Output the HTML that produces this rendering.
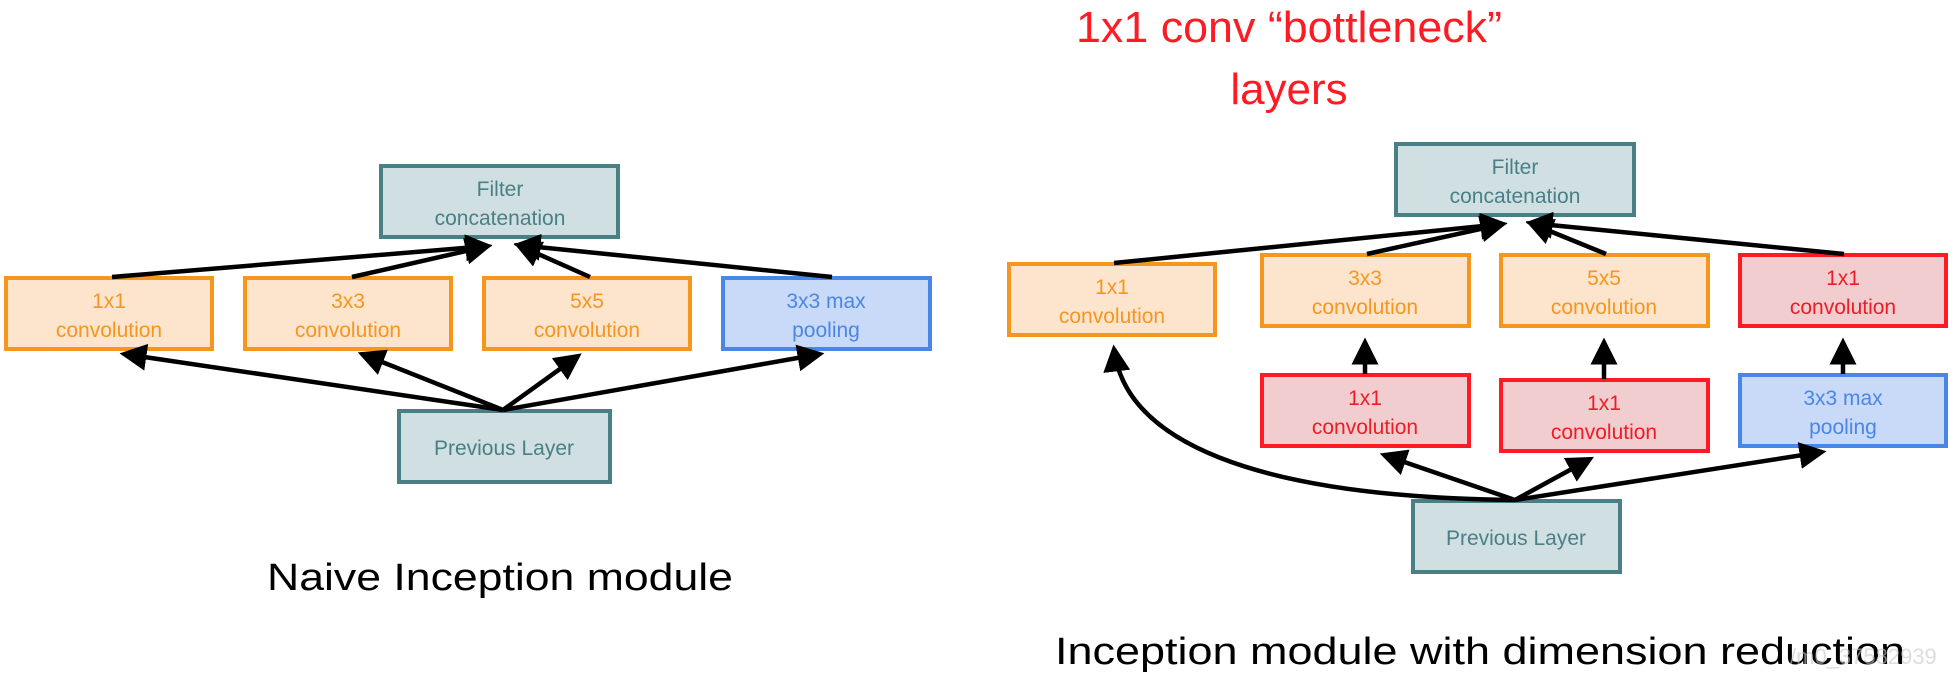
<!DOCTYPE html>
<html><head><style>body{margin:0;background:#fff}svg{display:block}</style></head>
<body>
<svg width="1958" height="676" viewBox="0 0 1958 676" xmlns="http://www.w3.org/2000/svg" font-family="Liberation Sans, Arial, sans-serif">
<defs>
<marker id="a" markerWidth="6" markerHeight="6" refX="5" refY="3" orient="auto" markerUnits="strokeWidth">
<path d="M0,0 L6,3 L0,6 z" fill="#000"/>
</marker>
</defs>
<style>
.t{stroke:#4a7f86;fill:#d0e0e2;stroke-width:4}
.o{stroke:#f7961e;fill:#fce4cd;stroke-width:4}
.b{stroke:#4a86e8;fill:#c9daf8;stroke-width:4}
.r{stroke:#ff1a24;fill:#f2cdd0;stroke-width:4}
.tt{fill:#4a7f86}.ot{fill:#f7961e}.bt{fill:#4a86e8}.rt{fill:#ee1c25}
text.l{font-size:21px;text-anchor:middle}
.ar{stroke:#000;stroke-width:4.5;fill:none;marker-end:url(#a)}
</style>

<!-- LEFT -->
<rect class="t" x="381" y="166" width="237" height="71"/>
<text class="l tt" x="500" y="196">Filter</text><text class="l tt" x="500" y="225">concatenation</text>
<rect class="o" x="6" y="278" width="206" height="71"/>
<text class="l ot" x="109" y="308">1x1</text><text class="l ot" x="109" y="337">convolution</text>
<rect class="o" x="245" y="278" width="206" height="71"/>
<text class="l ot" x="348" y="308">3x3</text><text class="l ot" x="348" y="337">convolution</text>
<rect class="o" x="484" y="278" width="206" height="71"/>
<text class="l ot" x="587" y="308">5x5</text><text class="l ot" x="587" y="337">convolution</text>
<rect class="b" x="723" y="278" width="207" height="71"/>
<text class="l bt" x="826" y="308">3x3 max</text><text class="l bt" x="826" y="337">pooling</text>
<rect class="t" x="399" y="411" width="211" height="71"/>
<text class="l tt" x="504" y="455">Previous Layer</text>

<path class="ar" d="M112,277 L488,246"/>
<path class="ar" d="M352,277 L488,246"/>
<path class="ar" d="M590,277 L518,245"/>
<path class="ar" d="M832,277 L518,245"/>
<path class="ar" d="M503,410 L124,354"/>
<path class="ar" d="M503,410 L362,354"/>
<path class="ar" d="M503,410 L578,356"/>
<path class="ar" d="M503,410 L820,354"/>

<text x="500" y="590" font-size="38" text-anchor="middle" fill="#000" textLength="466" lengthAdjust="spacingAndGlyphs">Naive Inception module</text>

<!-- RIGHT -->
<text x="1289" y="42" font-size="44" text-anchor="middle" fill="#ff1a24" textLength="426" lengthAdjust="spacingAndGlyphs">1x1 conv “bottleneck”</text>
<text x="1289" y="104" font-size="44" text-anchor="middle" fill="#ff1a24">layers</text>

<rect class="t" x="1396" y="144" width="238" height="71"/>
<text class="l tt" x="1515" y="174">Filter</text><text class="l tt" x="1515" y="203">concatenation</text>
<rect class="o" x="1009" y="264" width="206" height="71"/>
<text class="l ot" x="1112" y="294">1x1</text><text class="l ot" x="1112" y="323">convolution</text>
<rect class="o" x="1262" y="255" width="207" height="71"/>
<text class="l ot" x="1365" y="285">3x3</text><text class="l ot" x="1365" y="314">convolution</text>
<rect class="o" x="1501" y="255" width="207" height="71"/>
<text class="l ot" x="1604" y="285">5x5</text><text class="l ot" x="1604" y="314">convolution</text>
<rect class="r" x="1740" y="255" width="206" height="71"/>
<text class="l rt" x="1843" y="285">1x1</text><text class="l rt" x="1843" y="314">convolution</text>
<rect class="r" x="1262" y="375" width="207" height="71"/>
<text class="l rt" x="1365" y="405">1x1</text><text class="l rt" x="1365" y="434">convolution</text>
<rect class="r" x="1501" y="380" width="207" height="71"/>
<text class="l rt" x="1604" y="410">1x1</text><text class="l rt" x="1604" y="439">convolution</text>
<rect class="b" x="1740" y="375" width="206" height="71"/>
<text class="l bt" x="1843" y="405">3x3 max</text><text class="l bt" x="1843" y="434">pooling</text>
<rect class="t" x="1413" y="501" width="207" height="71"/>
<text class="l tt" x="1516" y="545">Previous Layer</text>

<path class="ar" d="M1114,263 L1503,224"/>
<path class="ar" d="M1367,254 L1503,224"/>
<path class="ar" d="M1606,254 L1530,223"/>
<path class="ar" d="M1844,254 L1530,223"/>
<path class="ar" d="M1365,374 L1365,342"/>
<path class="ar" d="M1604,379 L1604,342"/>
<path class="ar" d="M1843,374 L1843,342"/>
<path class="ar" d="M1515,500 L1384,455"/>
<path class="ar" d="M1515,500 L1590,459"/>
<path class="ar" d="M1515,500 L1822,452"/>
<path class="ar" d="M1515,500 C1250,497 1125,440 1114,349"/>

<text x="1480" y="664" font-size="38" text-anchor="middle" fill="#000" textLength="850" lengthAdjust="spacingAndGlyphs">Inception module with dimension reduction</text>
<text x="1790" y="664" font-size="22" fill="#c8c8c8" opacity="0.6">/m0_37582939</text>
</svg>
</body></html>
